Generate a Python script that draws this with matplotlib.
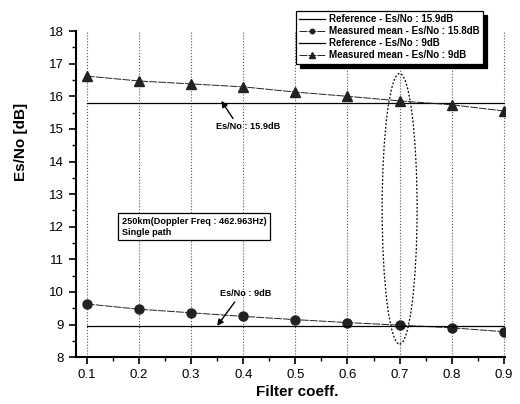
import matplotlib
matplotlib.use("Agg")
import matplotlib.pyplot as plt
from matplotlib.patches import Ellipse
from matplotlib.ticker import MultipleLocator

plt.rcParams['font.family'] = ['Liberation Sans', 'DejaVu Sans']

filter_coeff = [0.1, 0.2, 0.3, 0.4, 0.5, 0.6, 0.7, 0.8, 0.9]
ref_high = [15.79] * 9
measured_circle = [9.63, 9.47, 9.36, 9.25, 9.15, 9.06, 8.98, 8.90, 8.78]
ref_low = [8.95] * 9
measured_triangle = [16.62, 16.47, 16.38, 16.29, 16.13, 16.00, 15.86, 15.74, 15.55]

labels = ["Reference - Es/No : 15.9dB",
          "Measured mean - Es/No : 15.8dB",
          "Reference - Es/No : 9dB",
          "Measured mean - Es/No : 9dB"]

fig = plt.figure(figsize=(5.2, 4.04), dpi=100)
ax = fig.add_axes([0.146, 0.116, 0.825, 0.807])

l1, = ax.plot(filter_coeff, ref_high, color='black', lw=0.9)
l2, = ax.plot(filter_coeff, measured_circle, color='#222222', lw=0.7,
              marker='o', markersize=6.5, dashes=(8, 1.2))
l3, = ax.plot(filter_coeff, ref_low, color='black', lw=0.9)
l4, = ax.plot(filter_coeff, measured_triangle, color='#222222', lw=0.7,
              marker='^', markersize=7.5, dashes=(8, 1.2))

ax.set_xlim(0.079, 0.902)
ax.set_ylim(8, 18)
ax.set_xticks(filter_coeff)
ax.set_xticklabels([f"{v:.1f}" for v in filter_coeff])
ax.set_yticks(range(8, 19))
ax.xaxis.set_minor_locator(MultipleLocator(0.05))
ax.yaxis.set_minor_locator(MultipleLocator(0.5))
ax.tick_params(which='major', direction='out', length=5, width=1.2, labelsize=9.5)
ax.tick_params(which='minor', direction='out', length=3, width=1.0)
ax.spines['top'].set_visible(False)
ax.spines['right'].set_visible(False)
ax.spines['left'].set_linewidth(1.5)
ax.spines['bottom'].set_linewidth(1.5)
ax.grid(axis='x', which='major', linestyle=':', color='#555555', lw=0.8)

ax.set_xlabel("Filter coeff.", fontsize=11, fontweight='bold')
ax.set_ylabel("Es/No [dB]", fontsize=11, fontweight='bold')
ax.yaxis.set_label_coords(-0.112, 0.66)
ax.xaxis.set_label_coords(0.515, -0.085)

ax.annotate("Es/No : 15.9dB", xy=(0.358, 15.86), xytext=(0.41, 15.06),
            fontsize=6.6, fontweight='bold', ha='center', va='center',
            arrowprops=dict(arrowstyle='-|>', color='black', lw=1.0,
                            shrinkA=1, shrinkB=0, relpos=(0.3, 1.0),
                            mutation_scale=9))
ax.annotate("Es/No : 9dB", xy=(0.35, 8.96), xytext=(0.404, 9.95),
            fontsize=6.6, fontweight='bold', ha='center', va='center',
            arrowprops=dict(arrowstyle='-|>', color='black', lw=1.0,
                            shrinkA=1, shrinkB=0, relpos=(0.35, 0.0),
                            mutation_scale=9))

ax.text(0.167, 12.0, "250km(Doppler Freq : 462.963Hz)\nSingle path",
        fontsize=6.6, fontweight='bold', ha='left', va='center', linespacing=1.3,
        bbox=dict(boxstyle='square,pad=0.4', fc='white', ec='black', lw=0.9))

ax.add_patch(Ellipse((0.7, 12.55), width=0.067, height=8.3, fill=False,
                     linestyle=(0, (1.5, 1.5)), lw=0.9, color='black'))

leg = fig.legend([l1, l2, l3, l4], labels, loc='upper left',
                 bbox_to_anchor=(0.560, 0.985), fontsize=7, frameon=True,
                 fancybox=False, edgecolor='black', handlelength=2.6,
                 borderpad=0.35, labelspacing=0.2, handletextpad=0.4,
                 markerscale=0.5,
                 shadow={'ox': 3, 'oy': -3, 'color': 'black', 'alpha': 1.0})
leg.get_frame().set_linewidth(0.9)
for t in leg.get_texts():
    t.set_fontweight('bold')

fig.savefig("out.png", dpi=100)
